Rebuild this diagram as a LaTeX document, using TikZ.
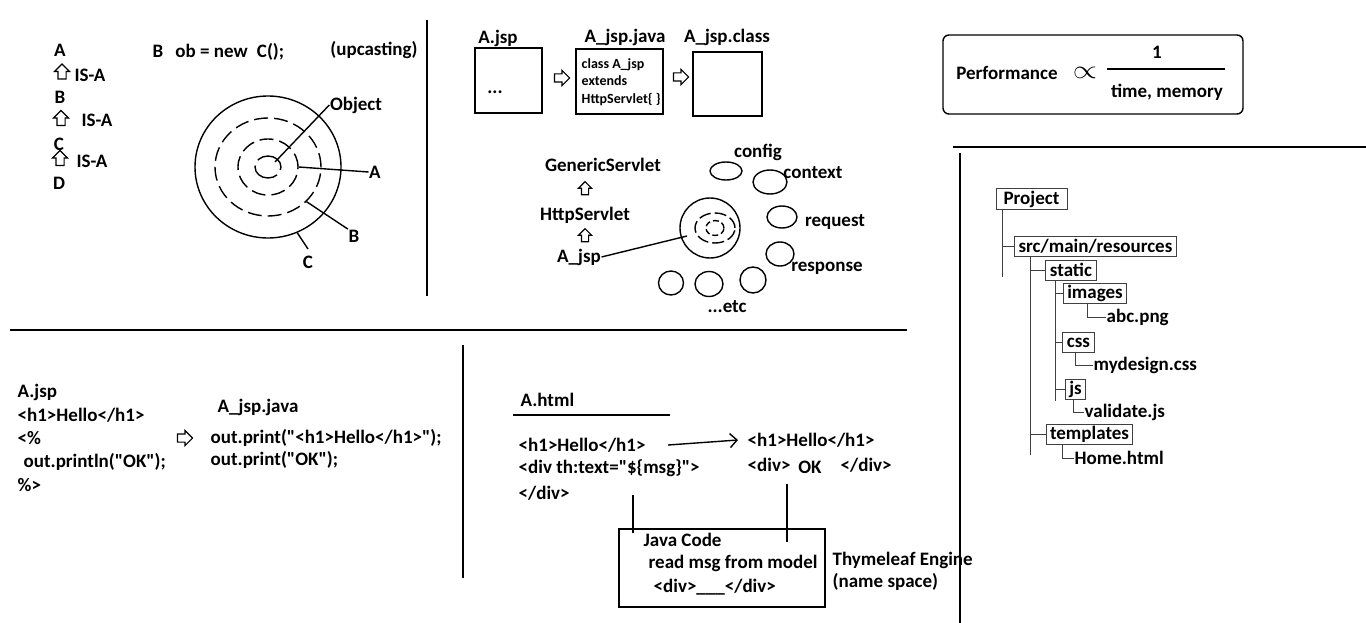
\documentclass[tikz,border=0pt]{standalone}
\usepackage{fontspec}
\setmainfont{Carlito}[Ligatures=TeXOff]
\usepackage{graphicx}
\usepackage{tikz}
\usetikzlibrary{shapes.geometric,shapes.arrows,arrows.meta}

\newcommand{\txtfont}{\fontsize{19}{22}\selectfont\bfseries}
\newcommand{\smallfont}{\fontsize{14}{17.5}\selectfont\bfseries}

\begin{document}
\begin{tikzpicture}[x=1pt,y=-1pt,line width=1.4pt]
	\tikzstyle{lbl}=[inner sep=0pt,font=\txtfont]
	\tikzstyle{code}=[lbl,anchor=west]
	\tikzstyle{box}=[draw,inner sep=0pt]
	\tikzstyle{blockarrow}=[draw,single arrow,minimum height=15pt,inner sep=3.5pt,single arrow head extend=3.5pt,line width=1.1pt]
	\tikzstyle{upa}=[blockarrow,rotate=90]
	\tikzstyle{ring}=[ellipse,draw,inner sep=0pt]
	\tikzstyle{dring}=[ring,dash pattern=on 14pt off 6pt]
	\tikzstyle{fold}=[draw=black!75,line width=1pt,inner xsep=4pt,inner ysep=1pt,minimum height=20pt,font=\txtfont]
	\tikzstyle{branch}=[draw=black!75,line width=1pt]
	\useasboundingbox (0,0) rectangle (1366,623);

	% section dividers
	\draw (427,20) -- (427,296);
	\draw (10,330) -- (907,330);
	\draw (953,147) -- (1366,147);
	\draw (960,153) -- (960,623);
	\draw (463,345) -- (463,578);

	% IS-A chain
	\node[lbl] (a) at (60,50) {A};
	\node[upa] (up1) at (62,73.5) {};
	\node[lbl] (isa1) at (90,75) {IS-A};
	\node[lbl] (b) at (60,97) {B};
	\node[upa] (up2) at (61,120) {};
	\node[lbl] (isa2) at (97,120) {IS-A};
	\node[lbl] (c) at (59,144) {C};
	\node[upa] (up3) at (60,160) {};
	\node[lbl] (isa3) at (92,161) {IS-A};
	\node[lbl] (d) at (59,183) {D};
	\node[code] (decl) at (152,52) {B\hspace{12pt}ob = new\hspace{5pt} C();};
	\node[lbl] (upc) at (374,50) {(upcasting)};

	% object rings
	\node[ring,minimum width=146,minimum height=142] (cc) at (268,167) {};
	\node[dring,minimum width=106,minimum height=98] (cb) at (268,167) {};
	\node[dring,minimum width=60,minimum height=56] (ca) at (268,167) {};
	\node[dring,minimum width=26,minimum height=22,dash pattern=on 30pt off 6pt] (cobj) at (268,167) {};
	\node[lbl] (lobj) at (356,105) {Object};
	\node[lbl] (la) at (375,172) {A};
	\node[lbl] (lb) at (354,236) {B};
	\node[lbl] (lc) at (308,262) {C};
	\coordinate (objpt) at (275,162);
	\draw (objpt) -- (lobj.west);
	\draw (ca.east) -- (la.west);
	\draw (cb.-42) -- (lb.north west);
	\draw (cc.-66) -- ([yshift=6pt]lc.north);

	% jsp translation
	\node[lbl] (jsp) at (498,38) {A.jsp};
	\node[box,minimum width=67,minimum height=65] (jspbox) at (508.5,80.5) {};
	\node[lbl] (dots) at (495,92) {...};
	\node[blockarrow] (r1) at (560,78) {};
	\node[lbl] (java) at (625,37) {A\_jsp.java};
	\node[box,minimum width=87,minimum height=65] (javabox) at (619.5,81.5) {};
	\node[anchor=west,align=left,font=\smallfont,inner sep=0pt] (javatxt) at (581,82) {class A\_jsp\\extends\\HttpServlet\{ \}};
	\node[blockarrow] (r2) at (679,77) {};
	\node[lbl] (cls) at (727,37) {A\_jsp.class};
	\node[box,minimum width=69,minimum height=64] (clsbox) at (727.5,84) {};

	% servlet hierarchy and implicit objects
	\node[lbl] (gs) at (603,165) {GenericServlet};
	\node[upa,minimum height=13pt,inner sep=3pt,single arrow head extend=3pt] (up4) at (585,190) {};
	\node[lbl] (hs) at (585,215) {HttpServlet};
	\node[upa,minimum height=13pt,inner sep=3pt,single arrow head extend=3pt] (up5) at (585,237) {};
	\node[lbl] (ajsp) at (579,257) {A\_jsp};
	\node[ring,minimum size=60] (obj) at (710,228) {};
	\node[dring,minimum width=40,minimum height=30,dash pattern=on 12pt off 4pt] (objm) at (715,228) {};
	\node[dring,minimum width=18,minimum height=15,dash pattern=on 6pt off 3pt] (obji) at (715,228) {};
	\coordinate (objpt2) at (687,236);
	\draw (ajsp.east) -- (objpt2);
	\node[ring,minimum width=32,minimum height=18] (e1) at (726,171) {};
	\node[lbl] (cfg) at (758,152) {config};
	\node[ring,minimum width=34,minimum height=24] (e2) at (770,182) {};
	\node[lbl] (ctx) at (813,173) {context};
	\node[ring,minimum width=30,minimum height=22] (e3) at (782,217) {};
	\node[lbl] (req) at (835,222) {request};
	\node[ring,minimum width=28,minimum height=24] (e4) at (780,254) {};
	\node[lbl] (resp) at (827,268) {response};
	\node[ring,minimum width=25,minimum height=24] (e5) at (671,283) {};
	\node[ring,minimum width=28,minimum height=25] (e6) at (709,284) {};
	\node[ring,minimum width=26,minimum height=26] (e7) at (753,280) {};
	\node[lbl] (etc) at (727,307) {...etc};

	% performance
	\node[draw,rounded corners=6pt,minimum width=300,minimum height=79] (perf) at (1093,74.5) {};
	\node[lbl] (pf) at (1007,73) {Performance};
	\node[lbl] (prop) at (1085,73) {\scalebox{1.8}[1.5]{$\propto$}};
	\coordinate (barl) at (1107,69);
	\coordinate (barr) at (1225,69);
	\draw (barl) -- (barr);
	\node[lbl] (one) at (1157,52) {1};
	\node[lbl] (tm) at (1167,92) {time, memory};

	% project tree
	\node[fold,minimum width=71] (proj) at (1031.5,199) {Project};
	\node[fold] (src) at (1095.5,246.5) {src/main/resources};
	\node[fold] (static) at (1071,270) {static};
	\node[fold] (images) at (1095,293) {images};
	\node[code] (abc) at (1106,317) {abc.png};
	\node[fold] (css) at (1078.5,342.5) {css};
	\node[code] (myd) at (1093,365) {mydesign.css};
	\node[fold] (js) at (1075.5,389.5) {js};
	\node[code] (val) at (1084,412) {validate.js};
	\node[fold] (tmpl) at (1089.5,434.5) {templates};
	\node[code] (home) at (1074,458) {Home.html};
	\coordinate (t0) at ([xshift=7pt]proj.south west);
	\draw[branch] (t0) -- ++(0,67);
	\draw[branch] (t0 |- src.west) -- (src.west);
	\coordinate (t1) at ([xshift=16pt]src.south west);
	\draw[branch] (t1) -- ++(0,198);
	\draw[branch] (t1 |- static.west) -- (static.west);
	\draw[branch] (t1 |- tmpl.west) -- (tmpl.west);
	\coordinate (t2) at ([xshift=10pt]static.south west);
	\draw[branch] (t2) -- ++(0,120);
	\draw[branch] (t2 |- images.west) -- (images.west);
	\draw[branch] (t2 |- css.west) -- (css.west);
	\draw[branch] (t2 |- js.west) -- (js.west);
	\draw[branch] ([xshift=25pt]images.south west) |- (abc.west);
	\draw[branch] ([xshift=13pt]css.south west) |- (myd.west);
	\draw[branch] ([xshift=9pt]js.south west) |- (val.west);
	\draw[branch] ([xshift=17pt]tmpl.south west) |- (home.west);

	% jsp to java
	\node[code] (bjsp) at (17,392) {A.jsp};
	\node[code] (bh1) at (17,415) {<h1>Hello</h1>};
	\node[code] (bopen) at (17,438) {<\%};
	\node[code] (bprint) at (23,462) {out.println("OK");};
	\node[code] (bclose) at (17,485) {\%>};
	\node[code] (bjava) at (217,407) {A\_jsp.java};
	\node[blockarrow] (r3) at (183,438) {};
	\node[code] (bout1) at (210,438) {out.print("<h1>Hello</h1>");};
	\node[code] (bout2) at (210,460) {out.print("OK");};

	% thymeleaf
	\node[code] (html) at (520,400) {A.html};
	\coordinate (ul1) at (513,415);
	\coordinate (ul2) at (670,415);
	\draw (ul1) -- (ul2);
	\node[code] (th1) at (518,445) {<h1>Hello</h1>};
	\node[code] (th2) at (518,468) {<div th:text="\$\{msg\}">};
	\node[code] (th3) at (518,493) {</div>};
	\node[code] (out1) at (747,440) {<h1>Hello</h1>};
	\node[code] (out2) at (747,465) {<div>};
	\node[lbl] (ok) at (810,467) {OK};
	\node[code] (out3) at (840,465) {</div>};
	\draw[-{Straight Barb[length=7pt,width=14pt]}] ([xshift=22pt]th1.east) -- ([xshift=-9pt]out1.west);
	\node[box,minimum width=206,minimum height=78] (eng) at (722,568) {};
	\node[code] (jc) at (643,540) {Java Code};
	\node[code] (rm) at (648,563) {read msg from model};
	\node[code] (dv) at (653,587) {<div>\_\_\_</div>};
	\node[code] (te) at (832,560) {Thymeleaf Engine};
	\node[code] (ns) at (832,582) {(name space)};
	\coordinate (v1a) at (633,495);
	\coordinate (v1b) at (633,533);
	\draw (v1a) -- (v1b);
	\coordinate (v2a) at (787,484);
	\coordinate (v2b) at (787,542);
	\draw (v2a) -- (v2b);
\end{tikzpicture}
\end{document}
